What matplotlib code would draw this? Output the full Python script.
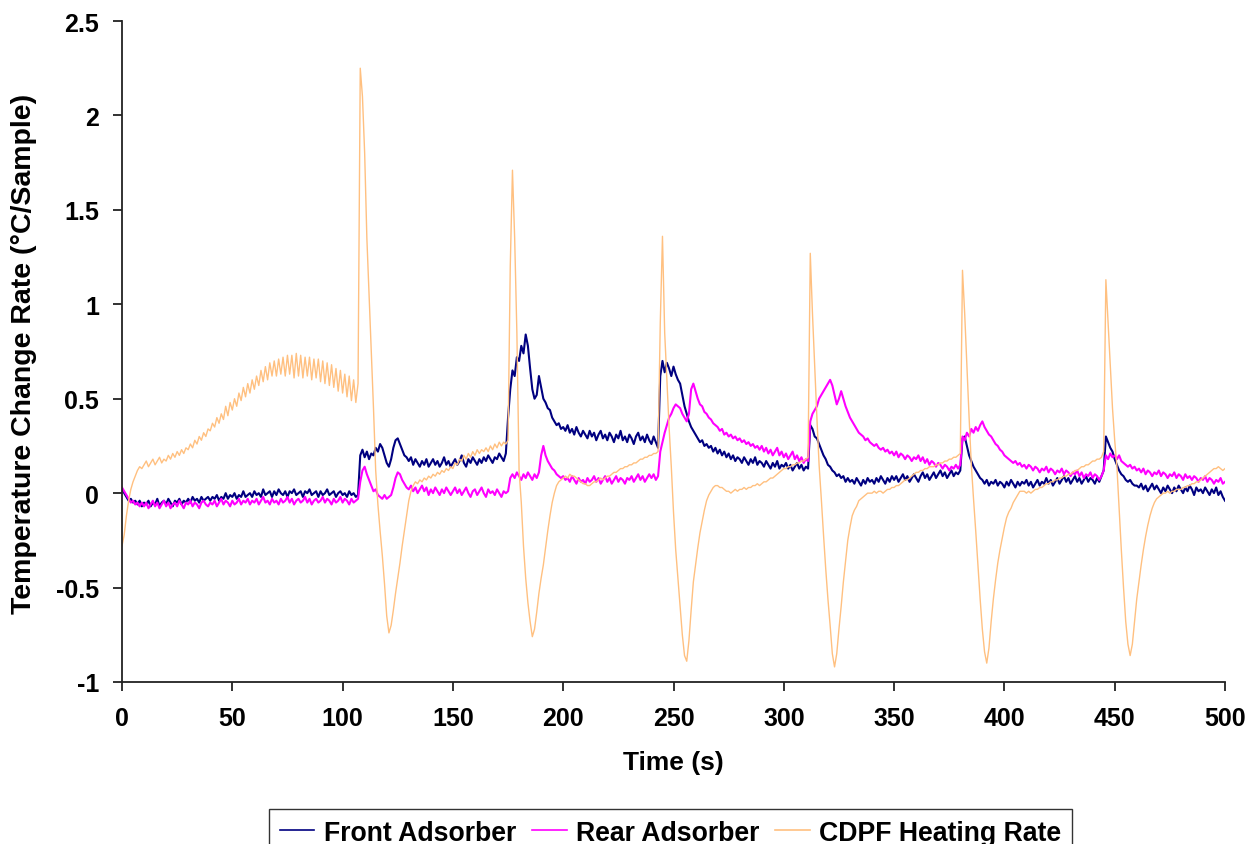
import numpy as np
import matplotlib
matplotlib.use("Agg")
import matplotlib.pyplot as plt
from matplotlib.ticker import FuncFormatter

# sampled once per second, 0..500 s
time_s = np.arange(0, 501)

front_adsorber = [
    0.02, 0.00, -0.02, -0.04, -0.03, -0.05, -0.04, -0.06, -0.04, -0.07,
    -0.05, -0.06, -0.04, -0.07, -0.05, -0.06, -0.03, -0.07, -0.05, -0.04,
    -0.06, -0.03, -0.05, -0.07, -0.04, -0.05, -0.03, -0.06, -0.04, -0.05,
    -0.03, -0.05, -0.02, -0.04, -0.03, -0.05, -0.02, -0.04, -0.03, -0.02,
    -0.04, -0.02, -0.03, -0.01, -0.04, -0.02, -0.03, 0.00, -0.03, -0.01,
    -0.02, 0.00, -0.03, -0.01, -0.02, 0.01, -0.02, -0.01, 0.00, -0.02,
    0.01, -0.01, 0.00, -0.02, 0.02, -0.01, 0.00, 0.01, -0.02, 0.01,
    -0.01, 0.02, 0.00, -0.01, 0.01, -0.02, 0.01, 0.00, 0.02, -0.01,
    0.00, 0.01, -0.02, 0.01, 0.00, 0.02, -0.01, 0.00, 0.01, -0.02,
    0.01, -0.01, 0.00, 0.02, -0.01, 0.00, 0.01, -0.02, 0.00, 0.01,
    -0.01, 0.00, -0.02, 0.01, -0.01, 0.00, -0.02, -0.01, 0.20, 0.23,
    0.19, 0.22, 0.18, 0.21, 0.20, 0.24, 0.22, 0.26, 0.24, 0.20,
    0.16, 0.14, 0.18, 0.24, 0.28, 0.29, 0.26, 0.23, 0.20, 0.19,
    0.17, 0.19, 0.15, 0.18, 0.16, 0.14, 0.17, 0.15, 0.18, 0.14,
    0.16, 0.18, 0.15, 0.17, 0.14, 0.16, 0.19, 0.15, 0.17, 0.14,
    0.16, 0.18, 0.15, 0.17, 0.20, 0.16, 0.14, 0.18, 0.16, 0.19,
    0.17, 0.15, 0.18, 0.16, 0.19, 0.17, 0.20, 0.18, 0.16, 0.19,
    0.18, 0.21, 0.19, 0.17, 0.21, 0.40, 0.55, 0.65, 0.62, 0.72,
    0.70, 0.78, 0.74, 0.84, 0.78, 0.66, 0.55, 0.50, 0.52, 0.62,
    0.56, 0.50, 0.48, 0.45, 0.44, 0.40, 0.38, 0.36, 0.37, 0.34,
    0.35, 0.33, 0.36, 0.32, 0.34, 0.31, 0.35, 0.32, 0.30, 0.33,
    0.31, 0.29, 0.33, 0.30, 0.32, 0.28, 0.31, 0.33, 0.29, 0.31,
    0.28, 0.32, 0.30, 0.27, 0.31, 0.29, 0.33, 0.28, 0.30, 0.27,
    0.31, 0.29, 0.26, 0.30, 0.32, 0.28, 0.30, 0.27, 0.31, 0.28,
    0.26, 0.30, 0.27, 0.24, 0.62, 0.70, 0.64, 0.69, 0.66, 0.62,
    0.67, 0.63, 0.60, 0.58, 0.52, 0.46, 0.42, 0.38, 0.35, 0.33,
    0.31, 0.29, 0.27, 0.28, 0.25, 0.26, 0.24, 0.25, 0.22, 0.24,
    0.21, 0.23, 0.20, 0.22, 0.19, 0.21, 0.18, 0.20, 0.17, 0.19,
    0.18, 0.16, 0.19, 0.17, 0.15, 0.18, 0.16, 0.19, 0.15, 0.17,
    0.16, 0.14, 0.17, 0.15, 0.13, 0.16, 0.14, 0.17, 0.13, 0.15,
    0.14, 0.16, 0.13, 0.15, 0.12, 0.14, 0.16, 0.13, 0.15, 0.12,
    0.14, 0.13, 0.36, 0.34, 0.30, 0.29, 0.26, 0.23, 0.20, 0.18,
    0.15, 0.14, 0.12, 0.11, 0.09, 0.10, 0.08, 0.09, 0.06, 0.08,
    0.06, 0.07, 0.05, 0.08, 0.06, 0.04, 0.07, 0.05, 0.08, 0.06,
    0.07, 0.05, 0.08, 0.06, 0.09, 0.07, 0.05, 0.08, 0.06, 0.09,
    0.07, 0.09, 0.06, 0.08, 0.10, 0.07, 0.09, 0.06, 0.08, 0.10,
    0.08, 0.06, 0.09, 0.11, 0.08, 0.10, 0.07, 0.09, 0.11, 0.08,
    0.10, 0.12, 0.09, 0.11, 0.08, 0.10, 0.12, 0.09, 0.11, 0.10,
    0.12, 0.29, 0.30, 0.25, 0.20, 0.17, 0.14, 0.12, 0.10, 0.08,
    0.07, 0.05, 0.07, 0.04, 0.06, 0.05, 0.07, 0.04, 0.06, 0.05,
    0.03, 0.06, 0.04, 0.07, 0.05, 0.03, 0.06, 0.04, 0.06, 0.05,
    0.07, 0.04, 0.06, 0.03, 0.05, 0.07, 0.04, 0.06, 0.05, 0.08,
    0.05, 0.07, 0.04, 0.06, 0.08, 0.05, 0.07, 0.09, 0.06, 0.08,
    0.05, 0.07, 0.09, 0.06, 0.08, 0.05, 0.07, 0.09, 0.06, 0.08,
    0.07, 0.05, 0.08, 0.06, 0.09, 0.12, 0.30, 0.27, 0.24, 0.22,
    0.18, 0.15, 0.12, 0.10, 0.09, 0.07, 0.06, 0.07, 0.05, 0.04,
    0.04, 0.03, 0.05, 0.02, 0.04, 0.01, 0.03, 0.05, 0.02, 0.04,
    0.02, 0.00, 0.03, 0.01, 0.04, 0.02, 0.00, 0.03, 0.01, 0.04,
    0.02, 0.00, 0.03, 0.01, 0.04, 0.02, -0.01, 0.03, 0.01, 0.02,
    0.00, 0.03, 0.01, -0.01, 0.02, 0.00, 0.03, -0.01, 0.01, -0.02,
    -0.04,
]

rear_adsorber = [
    0.03, 0.01, -0.01, -0.03, -0.05, -0.04, -0.06, -0.05, -0.07, -0.05,
    -0.07, -0.05, -0.08, -0.06, -0.04, -0.07, -0.05, -0.08, -0.06, -0.04,
    -0.07, -0.05, -0.08, -0.06, -0.05, -0.07, -0.04, -0.06, -0.08, -0.05,
    -0.06, -0.04, -0.07, -0.05, -0.06, -0.08, -0.05, -0.04, -0.06, -0.07,
    -0.05, -0.06, -0.04, -0.07, -0.05, -0.03, -0.06, -0.04, -0.05, -0.07,
    -0.04, -0.06, -0.05, -0.03, -0.06, -0.04, -0.05, -0.03, -0.06, -0.04,
    -0.05, -0.03, -0.06, -0.04, -0.02, -0.05, -0.04, -0.06, -0.03, -0.05,
    -0.04, -0.06, -0.03, -0.05, -0.04, -0.02, -0.05, -0.03, -0.06, -0.04,
    -0.03, -0.05, -0.04, -0.02, -0.05, -0.03, -0.06, -0.04, -0.03, -0.05,
    -0.04, -0.02, -0.05, -0.03, -0.04, -0.06, -0.03, -0.05, -0.04, -0.02,
    -0.05, -0.03, -0.04, -0.06, -0.03, -0.05, -0.04, -0.03, 0.06, 0.12,
    0.14, 0.10, 0.07, 0.04, 0.01, 0.02, -0.01, -0.02, -0.03, -0.01,
    -0.03, -0.02, -0.01, 0.03, 0.08, 0.11, 0.10, 0.07, 0.05, 0.03,
    0.02, 0.04, 0.01, 0.03, 0.00, 0.02, 0.04, 0.01, 0.03, -0.01,
    0.02, 0.00, 0.03, 0.01, -0.01, 0.02, 0.00, 0.03, 0.01, -0.01,
    0.01, 0.03, 0.00, 0.02, -0.01, 0.01, 0.03, 0.00, -0.02, 0.01,
    0.02, -0.01, 0.01, 0.03, 0.00, -0.02, 0.02, 0.00, 0.01, -0.01,
    0.02, 0.00, -0.02, 0.01, 0.00, 0.01, 0.08, 0.10, 0.08, 0.11,
    0.09, 0.07, 0.10, 0.08, 0.11, 0.09, 0.07, 0.10, 0.08, 0.11,
    0.20, 0.25, 0.20, 0.17, 0.15, 0.13, 0.12, 0.10, 0.09, 0.08,
    0.09, 0.07, 0.08, 0.06, 0.09, 0.07, 0.05, 0.08, 0.06, 0.07,
    0.05, 0.08, 0.06, 0.07, 0.09, 0.06, 0.08, 0.05, 0.07, 0.09,
    0.06, 0.08, 0.05, 0.07, 0.09, 0.06, 0.08, 0.07, 0.05, 0.08,
    0.07, 0.09, 0.06, 0.08, 0.10, 0.07, 0.09, 0.06, 0.08, 0.10,
    0.08, 0.10, 0.07, 0.09, 0.22, 0.27, 0.32, 0.36, 0.40, 0.42,
    0.45, 0.47, 0.46, 0.45, 0.42, 0.40, 0.38, 0.42, 0.55, 0.58,
    0.54, 0.50, 0.47, 0.46, 0.43, 0.42, 0.40, 0.39, 0.37, 0.36,
    0.35, 0.33, 0.34, 0.31, 0.32, 0.30, 0.31, 0.29, 0.30, 0.28,
    0.29, 0.27, 0.28, 0.26, 0.27, 0.25, 0.26, 0.24, 0.25, 0.23,
    0.25, 0.22, 0.24, 0.21, 0.23, 0.20, 0.22, 0.24, 0.20, 0.22,
    0.19, 0.21, 0.18, 0.20, 0.22, 0.18, 0.20, 0.17, 0.19, 0.16,
    0.18, 0.17, 0.38, 0.42, 0.44, 0.46, 0.50, 0.52, 0.54, 0.56,
    0.58, 0.60, 0.57, 0.52, 0.47, 0.50, 0.54, 0.50, 0.46, 0.43,
    0.40, 0.38, 0.36, 0.34, 0.32, 0.31, 0.30, 0.28, 0.29, 0.27,
    0.26, 0.25, 0.26, 0.24, 0.23, 0.24, 0.22, 0.23, 0.21, 0.22,
    0.20, 0.22, 0.19, 0.21, 0.20, 0.18, 0.20, 0.19, 0.17, 0.19,
    0.18, 0.20, 0.17, 0.19, 0.16, 0.18, 0.15, 0.17, 0.16, 0.14,
    0.16, 0.15, 0.13, 0.15, 0.14, 0.12, 0.14, 0.13, 0.15, 0.13,
    0.15, 0.30, 0.28, 0.32, 0.30, 0.34, 0.32, 0.35, 0.33, 0.36,
    0.38, 0.35, 0.33, 0.31, 0.30, 0.28, 0.26, 0.25, 0.23, 0.22,
    0.20, 0.19, 0.18, 0.17, 0.16, 0.17, 0.15, 0.16, 0.14, 0.15,
    0.13, 0.15, 0.14, 0.12, 0.14, 0.13, 0.11, 0.13, 0.12, 0.14,
    0.11, 0.13, 0.12, 0.10, 0.12, 0.11, 0.13, 0.10, 0.12, 0.11,
    0.09, 0.11, 0.10, 0.12, 0.09, 0.11, 0.08, 0.10, 0.09, 0.11,
    0.08, 0.10, 0.09, 0.07, 0.09, 0.12, 0.20, 0.18, 0.21, 0.19,
    0.20, 0.18, 0.20, 0.17, 0.16, 0.15, 0.14, 0.15, 0.13, 0.14,
    0.12, 0.13, 0.11, 0.13, 0.10, 0.12, 0.11, 0.09, 0.11, 0.10,
    0.12, 0.09, 0.11, 0.10, 0.08, 0.10, 0.09, 0.11, 0.08, 0.10,
    0.09, 0.07, 0.10, 0.08, 0.09, 0.07, 0.09, 0.08, 0.06, 0.08,
    0.07, 0.09, 0.06, 0.08, 0.07, 0.05, 0.07, 0.06, 0.08, 0.05,
    0.06,
]

cdpf_heating_rate = [
    -0.28, -0.22, -0.12, -0.04, 0.02, 0.06, 0.09, 0.12, 0.14, 0.13,
    0.15, 0.17, 0.14, 0.16, 0.18, 0.15, 0.17, 0.19, 0.16, 0.18,
    0.17, 0.20, 0.18, 0.21, 0.19, 0.22, 0.20, 0.23, 0.21, 0.24,
    0.23, 0.26, 0.24, 0.28, 0.26, 0.30, 0.28, 0.32, 0.30, 0.34,
    0.33, 0.37, 0.35, 0.40, 0.37, 0.42, 0.39, 0.46, 0.41, 0.48,
    0.44, 0.50, 0.46, 0.53, 0.49, 0.56, 0.51, 0.58, 0.53, 0.60,
    0.55, 0.62, 0.57, 0.65, 0.59, 0.67, 0.60, 0.69, 0.62, 0.70,
    0.62, 0.71, 0.63, 0.72, 0.62, 0.73, 0.63, 0.73, 0.61, 0.74,
    0.62, 0.73, 0.61, 0.72, 0.62, 0.72, 0.60, 0.71, 0.61, 0.71,
    0.59, 0.70, 0.58, 0.69, 0.57, 0.68, 0.56, 0.66, 0.54, 0.65,
    0.53, 0.63, 0.51, 0.62, 0.49, 0.60, 0.48, 0.58, 2.25, 2.10,
    1.80, 1.35, 1.05, 0.75, 0.45, 0.12, -0.06, -0.20, -0.33, -0.48,
    -0.65, -0.74, -0.70, -0.62, -0.53, -0.45, -0.37, -0.28, -0.20, -0.12,
    -0.04, 0.01, 0.04, 0.06, 0.05, 0.07, 0.06, 0.08, 0.07, 0.09,
    0.08, 0.10, 0.09, 0.11, 0.10, 0.12, 0.11, 0.13, 0.12, 0.14,
    0.13, 0.16, 0.15, 0.18, 0.17, 0.20, 0.18, 0.21, 0.19, 0.22,
    0.20, 0.23, 0.21, 0.23, 0.22, 0.24, 0.22, 0.25, 0.23, 0.26,
    0.24, 0.27, 0.25, 0.27, 0.26, 0.28, 1.20, 1.71, 1.35, 0.85,
    0.12, -0.05, -0.28, -0.45, -0.58, -0.68, -0.76, -0.72, -0.63, -0.53,
    -0.45, -0.38, -0.29, -0.20, -0.12, -0.05, 0.00, 0.04, 0.06, 0.07,
    0.08, 0.09, 0.08, 0.10, 0.09, 0.09, 0.08, 0.07, 0.06, 0.05,
    0.05, 0.04, 0.04, 0.05, 0.06, 0.06, 0.07, 0.08, 0.07, 0.08,
    0.09, 0.09, 0.10, 0.11, 0.11, 0.12, 0.13, 0.13, 0.14, 0.14,
    0.15, 0.15, 0.16, 0.16, 0.17, 0.18, 0.18, 0.19, 0.19, 0.20,
    0.20, 0.21, 0.21, 0.22, 0.90, 1.36, 0.85, 0.60, 0.35, 0.14,
    -0.10, -0.30, -0.45, -0.60, -0.75, -0.86, -0.89, -0.78, -0.62, -0.47,
    -0.38, -0.29, -0.21, -0.15, -0.09, -0.04, -0.01, 0.01, 0.03, 0.04,
    0.04, 0.03, 0.03, 0.02, 0.01, 0.01, 0.00, 0.01, 0.02, 0.01,
    0.02, 0.02, 0.03, 0.02, 0.03, 0.03, 0.04, 0.04, 0.05, 0.04,
    0.05, 0.06, 0.06, 0.07, 0.08, 0.08, 0.09, 0.10, 0.11, 0.12,
    0.13, 0.13, 0.14, 0.14, 0.15, 0.15, 0.16, 0.16, 0.17, 0.17,
    0.18, 0.19, 1.27, 0.95, 0.67, 0.40, 0.15, -0.03, -0.22, -0.40,
    -0.56, -0.70, -0.85, -0.92, -0.85, -0.72, -0.60, -0.47, -0.36, -0.25,
    -0.18, -0.12, -0.09, -0.07, -0.04, -0.03, -0.02, -0.01, 0.00, 0.00,
    0.00, 0.01, 0.00, 0.01, 0.01, 0.00, 0.01, 0.02, 0.02, 0.03,
    0.03, 0.04, 0.04, 0.05, 0.06, 0.07, 0.07, 0.08, 0.09, 0.10,
    0.11, 0.11, 0.12, 0.12, 0.13, 0.13, 0.14, 0.14, 0.14, 0.15,
    0.15, 0.16, 0.16, 0.17, 0.17, 0.18, 0.18, 0.19, 0.19, 0.20,
    0.21, 1.18, 0.95, 0.67, 0.40, 0.15, -0.03, -0.20, -0.38, -0.56,
    -0.72, -0.84, -0.90, -0.82, -0.68, -0.56, -0.46, -0.37, -0.30, -0.24,
    -0.18, -0.13, -0.10, -0.08, -0.05, -0.03, -0.01, 0.01, 0.01, 0.01,
    0.00, 0.01, 0.00, 0.01, 0.02, 0.02, 0.03, 0.03, 0.04, 0.05,
    0.05, 0.06, 0.06, 0.07, 0.07, 0.08, 0.08, 0.09, 0.09, 0.10,
    0.10, 0.11, 0.12, 0.12, 0.13, 0.14, 0.14, 0.15, 0.15, 0.16,
    0.17, 0.17, 0.18, 0.18, 0.19, 0.22, 1.13, 0.90, 0.67, 0.45,
    0.28, 0.14, -0.08, -0.30, -0.50, -0.68, -0.80, -0.86, -0.80, -0.68,
    -0.56, -0.47, -0.38, -0.30, -0.23, -0.17, -0.12, -0.08, -0.05, -0.03,
    -0.02, -0.01, 0.00, 0.00, 0.01, 0.00, 0.01, 0.01, 0.02, 0.02,
    0.02, 0.03, 0.03, 0.04, 0.04, 0.05, 0.05, 0.06, 0.06, 0.07,
    0.08, 0.09, 0.10, 0.11, 0.12, 0.13, 0.13, 0.14, 0.13, 0.12,
    0.13,
]

series_names = ["Front Adsorber", "Rear Adsorber", "CDPF Heating Rate"]
x_ticks = list(range(0, 501, 50))
y_ticks = [-1, -0.5, 0, 0.5, 1, 1.5, 2, 2.5]

plt.rcParams.update({
    "font.family": ["Liberation Sans", "DejaVu Sans"],
    "font.weight": "bold",
    "font.size": 18,
})

NAVY = "#000080"
MAGENTA = "#FF00FF"
PEACH = "#FFC080"

fig = plt.figure(figsize=(12.6, 8.45), dpi=100)
ax = fig.add_axes([122 / 1260, 1 - 683 / 845, 1103 / 1260, 661 / 845])

ax.plot(time_s, front_adsorber, color=NAVY, lw=1.5, label=series_names[0])
ax.plot(time_s, rear_adsorber, color=MAGENTA, lw=1.5, label=series_names[1])
ax.plot(time_s, cdpf_heating_rate, color=PEACH, lw=1.0, label=series_names[2])

ax.set_xlim(0, 500)
ax.set_ylim(-1, 2.5)
ax.set_xticks(x_ticks)
ax.set_yticks(y_ticks)
ax.yaxis.set_major_formatter(FuncFormatter(lambda v, p: f"{v:g}"))

for side in ("top", "right"):
    ax.spines[side].set_visible(False)
for side in ("left", "bottom"):
    ax.spines[side].set_color("#222222")
    ax.spines[side].set_linewidth(1.3)

ax.tick_params(axis="both", direction="out", length=6.5, width=1.3, color="#222222")
ax.tick_params(axis="x", pad=11)
ax.tick_params(axis="y", pad=10)

ax.set_xlabel("Time (s)", fontweight="bold", fontsize=19)
ax.xaxis.set_label_coords(0.5, -0.103)
ax.set_ylabel("Temperature Change Rate (°C/Sample)", fontweight="bold", fontsize=20.5)
ax.yaxis.set_label_coords(-0.077, 0.498)

leg = fig.legend(loc="upper center", bbox_to_anchor=(670.5 / 1260, 1 - 810 / 845),
                 ncol=3, frameon=True, fancybox=False, borderaxespad=0,
                 handlelength=1.3, handletextpad=0.35, columnspacing=0.6,
                 borderpad=0.4, fontsize=19.2)
leg.get_frame().set_edgecolor("black")
leg.get_frame().set_linewidth(1.0)
for line in leg.get_lines():
    line.set_linewidth(1.2)

fig.savefig("out.png", dpi=100, facecolor="white")
